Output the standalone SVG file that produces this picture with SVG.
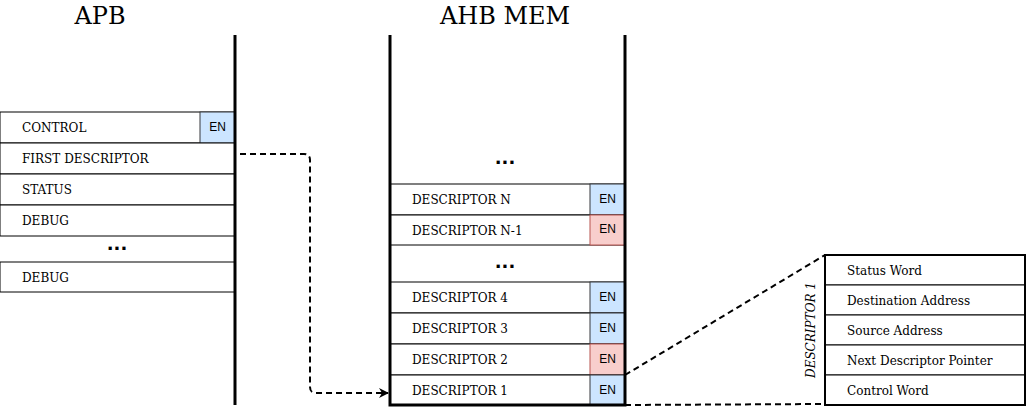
<svg xmlns="http://www.w3.org/2000/svg" width="1028" height="408" viewBox="0 0 1028 408">
<defs>
<style>
.row{fill:#fff;stroke:#000;stroke-width:1}
.enb{fill:#cce5ff;stroke:#36393d;stroke-width:1}
.enr{fill:#f8cecc;stroke:#b85450;stroke-width:1}
.t{font-family:"DejaVu Serif",serif;font-size:12px;fill:#000}
.en{font-family:"Liberation Sans",sans-serif;font-size:12px;fill:#000;text-anchor:middle}
.title{font-family:"DejaVu Serif",serif;font-size:24px;fill:#000;text-anchor:middle}
.dots{font-family:"DejaVu Sans",sans-serif;font-size:18px;font-weight:bold;fill:#000;text-anchor:middle}
.wall{stroke:#000;stroke-width:3;fill:none}
.dash{stroke:#000;stroke-width:2;stroke-dasharray:6 4;fill:none}
</style>
<marker id="arr" viewBox="0 0 10 10" refX="9" refY="5" markerWidth="10" markerHeight="10" orient="auto" markerUnits="userSpaceOnUse">
<path d="M0,0 L10,5 L0,10 L3,5 Z" fill="#000"/>
</marker>
</defs>
<rect width="1028" height="408" fill="#fff"/>

<g id="apb">
<text class="title" x="100" y="24">APB</text>
<rect class="row" x="0" y="112" width="235" height="31"/>
<text class="t" x="22" y="132">CONTROL</text>
<rect class="enb" x="200" y="112" width="35" height="31"/>
<text class="en" x="217.5" y="131">EN</text>
<rect class="row" x="0" y="143" width="235" height="31"/>
<text class="t" x="22" y="163">FIRST DESCRIPTOR</text>
<rect class="row" x="0" y="174" width="235" height="31"/>
<text class="t" x="22" y="194">STATUS</text>
<rect class="row" x="0" y="205" width="235" height="31"/>
<text class="t" x="22" y="225">DEBUG</text>
<text class="dots" x="117" y="250">...</text>
<rect class="row" x="0" y="262" width="235" height="30"/>
<text class="t" x="22" y="282">DEBUG</text>
<line class="wall" x1="235" y1="35" x2="235" y2="405"/>
</g>

<g id="ahb">
<text class="title" x="505" y="24">AHB MEM</text>
<text class="dots" x="505" y="164">...</text>
<rect class="row" x="390" y="184" width="235" height="31"/>
<text class="t" x="412" y="204">DESCRIPTOR N</text>
<rect class="enb" x="590" y="184" width="35" height="31"/>
<text class="en" x="607.5" y="203">EN</text>
<rect class="row" x="390" y="215" width="235" height="30"/>
<text class="t" x="412" y="235">DESCRIPTOR N-1</text>
<rect class="enr" x="590" y="215" width="35" height="30"/>
<text class="en" x="607.5" y="233">EN</text>
<text class="dots" x="505" y="268">...</text>
<rect class="row" x="390" y="282" width="235" height="31"/>
<text class="t" x="412" y="302">DESCRIPTOR 4</text>
<rect class="enb" x="590" y="282" width="35" height="31"/>
<text class="en" x="607.5" y="301">EN</text>
<rect class="row" x="390" y="313" width="235" height="31"/>
<text class="t" x="412" y="333">DESCRIPTOR 3</text>
<rect class="enb" x="590" y="313" width="35" height="31"/>
<text class="en" x="607.5" y="332">EN</text>
<rect class="row" x="390" y="344" width="235" height="31"/>
<text class="t" x="412" y="364">DESCRIPTOR 2</text>
<rect class="enr" x="590" y="344" width="35" height="31"/>
<text class="en" x="607.5" y="363">EN</text>
<rect class="row" x="390" y="375" width="235" height="30"/>
<text class="t" x="412" y="395">DESCRIPTOR 1</text>
<rect class="enb" x="590" y="375" width="35" height="30"/>
<text class="en" x="607.5" y="394">EN</text>
<path class="wall" d="M390,35 V405 H625 V35"/>
</g>

<g id="desc1">
<rect class="row" x="825" y="255" width="200" height="30"/>
<text class="t" x="847" y="275">Status Word</text>
<rect class="row" x="825" y="285" width="200" height="30"/>
<text class="t" x="847" y="305">Destination Address</text>
<rect class="row" x="825" y="315" width="200" height="30"/>
<text class="t" x="847" y="335">Source Address</text>
<rect class="row" x="825" y="345" width="200" height="30"/>
<text class="t" x="847" y="365">Next Descriptor Pointer</text>
<rect class="row" x="825" y="375" width="200" height="30"/>
<text class="t" x="847" y="395">Control Word</text>
<rect x="825" y="255" width="200" height="150" fill="none" stroke="#000" stroke-width="2"/>
<text class="t" font-style="italic" transform="translate(815,330) rotate(-90)" text-anchor="middle">DESCRIPTOR 1</text>
</g>

<g id="connectors">
<path class="dash" d="M240,154 H304 Q310,154 310,160 V387 Q310,393 316,393 H388" marker-end="url(#arr)"/>
<line class="dash" x1="625" y1="375" x2="825" y2="255"/>
<line class="dash" x1="625" y1="405" x2="825" y2="404"/>
</g>
</svg>
